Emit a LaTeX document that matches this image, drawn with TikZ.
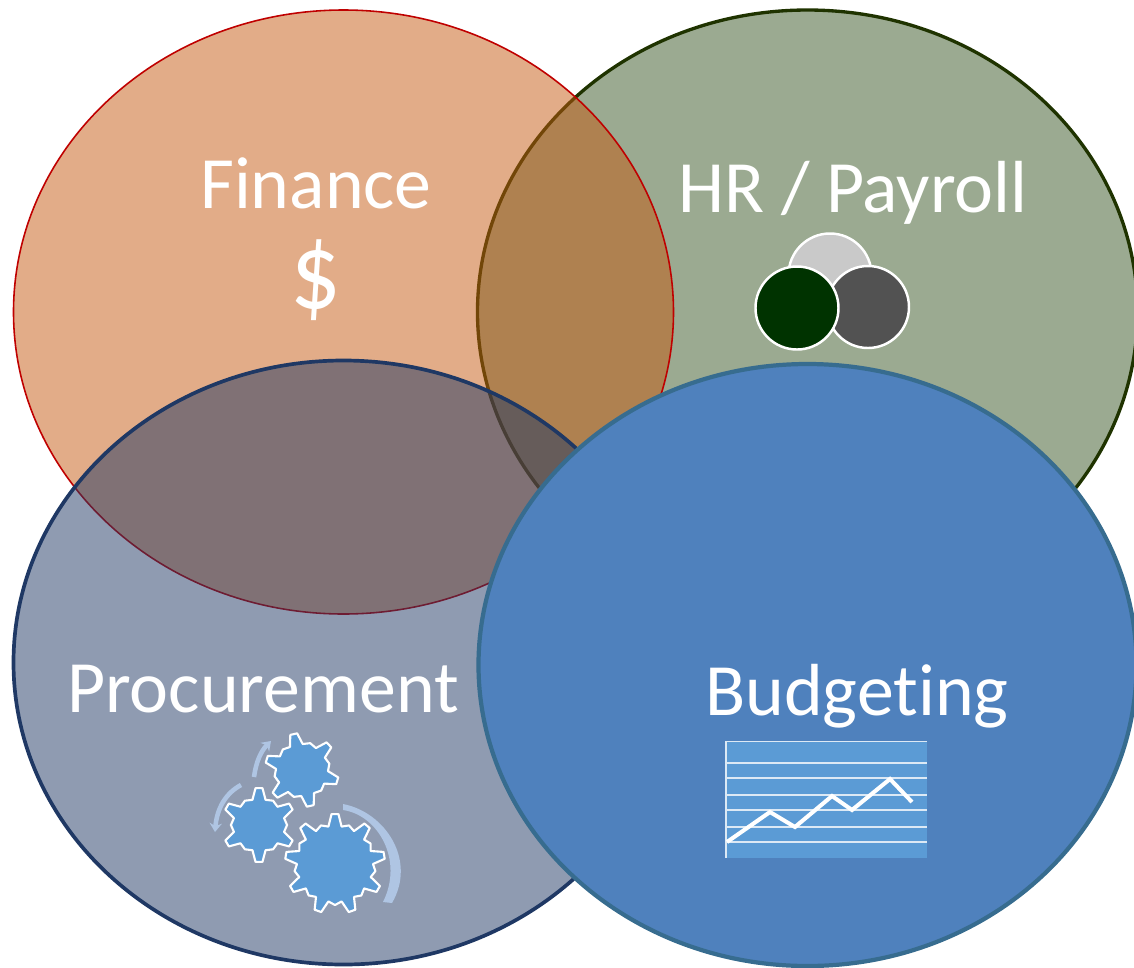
\documentclass[tikz,border=0pt]{standalone}
\usepackage{fontspec}
\setmainfont{Carlito}[RawFeature={-liga}]
\usetikzlibrary{arrows.meta}
\definecolor{financefill}{HTML}{C55A11}
\definecolor{hrfill}{HTML}{375623}
\definecolor{hrline}{HTML}{1F3300}
\definecolor{procfill}{HTML}{1F3864}
\definecolor{budgetfill}{HTML}{4F81BD}
\definecolor{budgetline}{HTML}{376C8F}
\definecolor{iconblue}{HTML}{5B9BD5}
\definecolor{palearrow}{HTML}{AFC5E3}
\definecolor{gridline}{HTML}{DCE9F5}
\tikzset{
  bigtext/.style={text=white,anchor=base,inner sep=0pt,font=\fontsize{42}{42}\selectfont},
  gearline/.style={draw=white,line width=1.2pt,fill=iconblue,line join=round},
  palebend/.style={draw=palearrow,line width=2.6pt,-{Stealth[length=5pt,width=7pt]}},
  hrdot/.style={draw=white,line width=1.4pt},
}
% x, y, outer radius, root radius, teeth, first angle
\newcommand{\drawgear}[6]{
  \draw[gearline,shift={(#1,#2)}] ({-(#6)-380/#4}:#4)
    \foreach \i [evaluate=\i as \a using -(#6)+(\i-1)*360/#5] in {1,...,#5} {
      -- ({\a-380/#4}:#4) -- ({\a-200/#3}:#3) -- ({\a+200/#3}:#3) -- ({\a+380/#4}:#4) -- ({\a+180/#5}:#4*1.08)
    } -- cycle;
}
\begin{document}
\begin{tikzpicture}[x=0.02cm,y=-0.02cm]
    \useasboundingbox (0,0) rectangle (1134,968);
    \clip (0,0) rectangle (1134,968);

    \coordinate (finance) at (343.5,312);
    \coordinate (hr) at (807.5,312);
    \coordinate (proc) at (343.5,662.5);
    \coordinate (budget) at (807.5,665);

    % four ellipses
    \draw[fill=hrfill,fill opacity=0.5,draw=hrline,line width=1.9pt] (hr) circle[x radius=330,y radius=302];
    \draw[fill=financefill,fill opacity=0.5,draw=red!75!black,line width=0.9pt] (finance) circle[x radius=330,y radius=302];
    \draw[fill=procfill,fill opacity=0.5,draw=procfill,line width=2.1pt] (proc) circle[x radius=330,y radius=302];
    \draw[fill=budgetfill,draw=budgetline,line width=2.4pt] (budget) circle[x radius=329,y radius=301];

    % labels
    \node[bigtext] (financelabel) at (316,208) {Finance};
    \node[bigtext,font=\fontsize{62}{62}\selectfont,xscale=0.92,transform shape] (dollar) at (316,308) {\$};
    \node[bigtext] (hrlabel) at (853,212) {HR / Payroll};
    \node[bigtext] (proclabel) at (263,712) {Procurement};
    \node[bigtext] (budgetlabel) at (857,715) {Budgeting};

    % hr icon
    \draw[hrdot,fill=black!21] (830,275) circle(41.5);
    \draw[hrdot,fill=black!68] (868,307) circle(41);
    \draw[hrdot,fill=green!20!black] (797,308) circle(41.5);

    % gears
    \drawgear{302}{770}{37}{26}{6}{103}
    \drawgear{259}{825}{37}{26}{6}{90}
    \drawgear{335}{864}{50}{38}{9}{90}
    \fill[palearrow] (343,804) .. controls (385,812) and (417,860) .. (392,903)
      -- (383,902) .. controls (404,860) and (378,815) .. (343,810) -- cycle;
    \draw[palebend] (254,777) .. controls (256,762) and (261,751) .. (271,741);
    \draw[palebend] (241,785) .. controls (226,793) and (217,808) .. (215,832);

    % chart
    \fill[iconblue] (726,741) rectangle (927,858);
    \foreach \ypos in {763,778,795,810,827,842}
      \draw[gridline,line width=0.9pt] (726,\ypos) -- (927,\ypos);
    \draw[gridline,line width=1.1pt] (927,741.5) -- (726,741.5) -- (726,858);
    \draw[white,line width=2.3pt,line join=miter] (727,842) -- (770,812) -- (795,827) -- (832,796) -- (852,810) -- (890,779) -- (912,802);
\end{tikzpicture}
\end{document}
